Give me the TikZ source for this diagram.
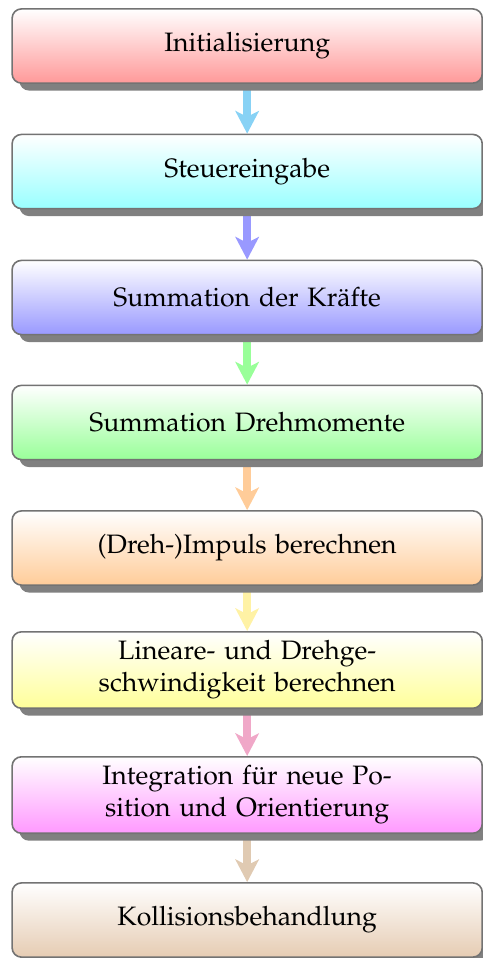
\documentclass[tikz,border=0pt]{standalone}
\usepackage[T1]{fontenc}
\usepackage{mathpazo}
\usepackage{xcolor}
\definecolor{boxred}{RGB}{255,153,153}
\definecolor{boxcyan}{RGB}{153,255,255}
\definecolor{boxblue}{RGB}{153,153,255}
\definecolor{boxgreen}{RGB}{153,255,153}
\definecolor{boxorange}{RGB}{255,204,153}
\definecolor{boxyellow}{RGB}{255,255,153}
\definecolor{boxmagenta}{RGB}{255,153,255}
\definecolor{boxbrown}{RGB}{230,204,179}
\definecolor{arrcyan}{RGB}{136,210,245}
\definecolor{arrblue}{RGB}{153,153,255}
\definecolor{arrgreen}{RGB}{153,255,153}
\definecolor{arrorange}{RGB}{255,204,153}
\definecolor{arryellow}{RGB}{255,242,165}
\definecolor{arrpink}{RGB}{240,168,200}
\definecolor{arrbrown}{RGB}{224,202,178}
\usepackage{tikz}
\usetikzlibrary{positioning}
\usetikzlibrary{shadows}
\usetikzlibrary{arrows.meta}
\usetikzlibrary{backgrounds}

\begin{document}
\begin{tikzpicture}[
    stage/.style={draw=black!55, line width=0.6pt, rounded corners=3.5pt,
      minimum width=6.21cm, minimum height=0.98cm, text width=4.6cm, align=center,
      top color=white,
      drop shadow={shadow xshift=2.8pt, shadow yshift=-2.8pt, fill=black!50, opacity=1}},
    flow/.style={line width=2.9pt, -{Stealth[length=8.5pt, width=8.8pt, inset=2.2pt]}}
  ]
    \useasboundingbox (0,0) rectangle (6.38,-12.655);

    \node [stage, bottom color=boxred] (init) at (3.265,-0.608) {Initialisierung};
    \node [stage, bottom color=boxcyan] (input) at (3.265,-2.266) {Steuereingabe};
    \node [stage, bottom color=boxblue] (forces) at (3.265,-3.930) {Summation der Kr\"afte};
    \node [stage, bottom color=boxgreen] (torques) at (3.265,-5.581) {Summation Drehmomente};
    \node [stage, bottom color=boxorange] (impulse) at (3.265,-7.239) {(Dreh-)Impuls berechnen};
    \node [stage, bottom color=boxyellow] (velocity) at (3.265,-8.851) {Lineare- und Drehge-\\schwindigkeit berechnen};
    \node [stage, bottom color=boxmagenta] (integrate) at (3.265,-10.502) {Integration f\"ur neue Po-\\sition und Orientierung};
    \node [stage, bottom color=boxbrown] (collision) at (3.265,-12.153) {Kollisionsbehandlung};

    \begin{scope}[on background layer]
      \draw [flow, arrcyan] (init) -- (input);
      \draw [flow, arrblue] (input) -- (forces);
      \draw [flow, arrgreen] (forces) -- (torques);
      \draw [flow, arrorange] (torques) -- (impulse);
      \draw [flow, arryellow] (impulse) -- (velocity);
      \draw [flow, arrpink] (velocity) -- (integrate);
      \draw [flow, arrbrown] (integrate) -- (collision);
    \end{scope}
  \end{tikzpicture}
\end{document}
